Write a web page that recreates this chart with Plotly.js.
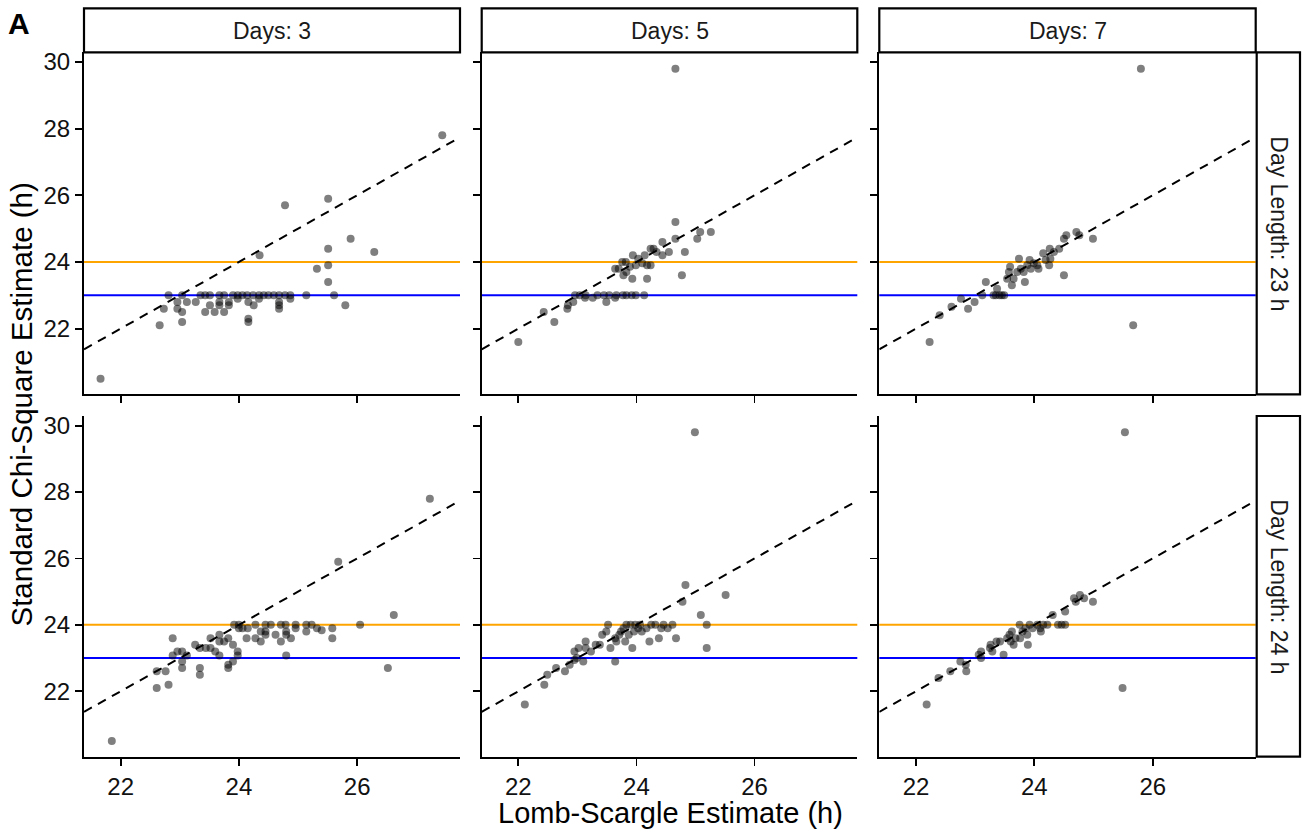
<!DOCTYPE html>
<html>
<head>
<meta charset="utf-8">
<script src="https://cdn.plot.ly/plotly-3.0.1.min.js"></script>
<style>html,body{margin:0;padding:0;background:#fff}#chart{width:1309px;height:833px}</style>
</head>
<body>
<div id="chart"></div>
<script>
// ---------------- DATA ----------------
const dayLabels = ["Days: 3", "Days: 5", "Days: 7"];
const dayLengthLabels = ["Day Length: 23 h", "Day Length: 24 h"];
const xTickVals = [22, 24, 26];
const yTickVals = [22, 24, 26, 28, 30];
const refHLines = [23, 24];
const refHLineColors = ["#0000FF", "#FFA500"];

// Day length 23 h
const ls_d3_dl23 = [21.66,27.44,24.78,25.51,25.89,26.29,25.51,25.32,25.51,25.51,25.61,25.80,24.35,25.14,22.66,22.73,22.81,22.96,22.96,23.04,23.04,23.04,23.12,23.27,23.35,23.43,23.51,23.43,23.51,23.59,23.67,23.75,23.67,23.67,23.75,23.83,23.83,23.90,23.98,23.98,24.06,24.14,24.16,24.16,24.16,24.24,24.25,24.34,24.34,24.42,24.50,24.59,24.68,24.68,24.68,24.68,24.78,24.87,24.87];
const chi_d3_dl23 = [20.5,27.8,25.7,25.9,24.7,24.3,24.4,23.8,23.9,23.4,23.0,22.7,24.2,23.0,22.1,22.6,23.0,22.8,22.6,23.0,22.5,22.2,22.8,22.8,23.0,23.0,23.0,22.5,22.7,22.5,23.0,23.0,22.8,22.7,22.5,22.8,22.7,23.0,23.0,22.9,23.0,23.0,22.8,22.3,22.2,23.0,22.7,23.0,22.9,23.0,23.0,23.0,23.0,22.8,22.7,22.6,23.0,23.0,22.9];

const ls_d5_dl23 = [24.66,22.00,22.43,22.61,22.83,22.84,22.93,22.96,23.04,23.13,23.14,23.26,23.34,23.45,23.49,23.54,23.64,23.66,23.77,23.83,23.92,23.99,24.13,23.64,23.70,23.78,23.83,23.93,23.76,23.82,23.89,23.94,23.99,24.03,24.10,24.14,24.18,24.18,24.24,24.24,24.29,24.34,24.44,24.44,24.55,24.66,24.66,24.77,24.82,25.03,25.08,25.26];
const chi_d5_dl23 = [29.8,21.6,22.5,22.2,22.6,22.7,22.8,23.0,23.0,22.93,23.0,22.93,23.0,23.0,22.8,23.0,22.93,23.0,23.0,23.0,23.0,23.0,23.0,23.8,23.8,23.6,23.7,23.5,24.0,24.0,23.86,24.2,23.9,24.1,23.96,24.2,23.5,23.9,23.9,24.4,24.4,24.3,24.6,24.2,24.3,24.7,25.2,23.6,24.3,24.7,24.9,24.9];

const ls_d7_dl23 = [25.80,25.67,22.23,22.40,22.60,22.76,22.88,22.99,23.12,23.18,23.31,23.37,23.41,23.49,23.54,23.57,23.59,23.62,23.65,23.71,23.74,23.77,23.82,23.84,23.88,23.92,23.94,23.99,24.05,24.07,24.15,24.19,24.25,24.27,24.26,24.33,24.42,24.50,24.50,24.54,24.71,24.76,24.99,23.35,23.45];
const chi_d7_dl23 = [29.8,22.1,21.6,22.4,22.66,22.9,22.6,22.8,23.0,23.4,23.0,23.2,23.0,23.0,23.5,23.7,23.86,23.3,23.5,23.7,24.1,23.8,23.7,23.4,23.9,24.06,23.8,23.96,23.9,23.8,24.26,24.06,23.9,24.1,24.4,24.3,24.4,23.6,24.7,24.8,24.9,24.8,24.7,23.0,23.0];

// Day length 24 h
const ls_d3_dl24 = [21.85,27.23,25.68,26.62,26.52,26.05,25.58,25.58,25.40,25.32,25.23,25.14,25.14,24.96,24.96,24.88,24.80,24.80,24.80,24.79,24.71,24.71,24.62,24.54,24.45,24.45,24.45,24.37,24.37,24.28,24.28,24.15,24.13,24.06,24.00,23.92,24.00,23.98,23.98,23.90,23.82,23.82,23.90,23.82,23.75,23.67,23.67,23.67,23.60,23.52,23.52,23.44,23.34,23.26,23.34,23.34,23.12,23.04,23.04,23.04,22.96,22.88,22.88,22.81,22.76,22.61,22.61];
const chi_d3_dl24 = [20.5,27.8,25.9,24.3,22.7,24.0,23.9,23.6,23.84,23.9,24.0,23.8,24.0,23.9,24.0,23.6,23.7,23.8,23.08,24.0,23.5,24.0,23.7,24.0,24.0,23.8,23.7,23.5,23.8,23.6,24.0,23.9,23.6,23.9,24.0,24.0,23.9,23.2,23.08,22.9,22.8,22.7,23.4,23.6,23.5,23.7,23.5,23.08,23.2,23.6,23.3,23.3,23.3,23.4,22.7,22.5,23.08,23.2,22.9,22.7,23.2,23.08,23.6,22.2,22.6,22.6,22.1];

const ls_d5_dl24 = [24.99,22.11,22.44,22.49,22.64,22.79,22.87,22.95,22.99,22.95,23.02,23.10,23.14,23.14,23.23,23.31,23.38,23.42,23.49,23.52,23.56,23.64,23.64,23.66,23.71,23.74,23.78,23.81,23.83,23.87,23.90,23.93,23.96,23.98,24.03,24.06,24.09,24.17,24.22,24.25,24.32,24.38,24.42,24.46,24.53,24.61,24.67,24.78,24.83,25.09,25.19,25.19,25.51];
const chi_d5_dl24 = [29.8,21.6,22.2,22.5,22.7,22.6,22.8,22.94,23.0,23.2,23.3,22.9,23.5,23.3,23.2,23.4,23.4,23.7,23.8,24.0,23.3,22.9,23.6,23.5,23.7,23.8,23.9,23.5,24.0,23.7,24.0,23.3,23.8,24.0,23.9,24.0,23.8,23.9,23.5,24.0,24.0,23.6,23.9,24.0,23.9,24.0,23.6,24.7,25.2,24.3,24.0,23.3,24.9];

const ls_d7_dl24 = [25.53,25.49,22.18,22.38,22.58,22.75,22.84,22.85,23.06,23.10,23.10,23.25,23.26,23.29,23.36,23.42,23.48,23.54,23.58,23.60,23.62,23.65,23.68,23.75,23.76,23.80,23.85,23.88,23.89,23.92,23.97,24.05,24.10,24.11,24.15,24.22,24.31,24.40,24.46,24.52,24.52,24.67,24.70,24.77,24.84,24.99];
const chi_d7_dl24 = [29.8,22.1,21.6,22.4,22.6,22.9,22.8,22.6,23.1,23.2,23.0,23.3,23.4,23.2,23.5,23.5,23.1,23.6,23.7,23.5,23.8,23.4,23.6,24.0,23.6,23.8,23.9,23.7,23.4,24.0,23.9,24.0,23.9,23.8,24.0,24.0,24.3,24.0,24.0,24.0,24.4,24.8,24.7,24.9,24.8,24.7];

// ---------------- LAYOUT ----------------
const W = 1309, H = 833;
const panels = [
  [ls_d3_dl23, chi_d3_dl23], [ls_d5_dl23, chi_d5_dl23], [ls_d7_dl23, chi_d7_dl23],
  [ls_d3_dl24, chi_d3_dl24], [ls_d5_dl24, chi_d5_dl24], [ls_d7_dl24, chi_d7_dl24]
];
const colPx = [[84, 460], [481.7, 857.3], [879.3, 1255.7]];
const rowPx = [[52.3, 394.3], [416, 756.7]];
const xRange = [21.38, 27.74];
const yRange = [20.03, 30.29];
const FONT = "Liberation Sans, Arial, sans-serif";

const px2x = p => p / W;
const px2y = p => 1 - p / H;

const traces = [];
const layout = {
  width: W, height: H,
  margin: {l: 0, r: 0, t: 0, b: 0},
  paper_bgcolor: "#fff", plot_bgcolor: "#fff",
  showlegend: false,
  font: {family: FONT, color: "#000"},
  shapes: [], annotations: []
};

for (let i = 0; i < 6; i++) {
  const r = Math.floor(i / 3), c = i % 3;
  const sfx = i === 0 ? "" : String(i + 1);
  const xa = "x" + sfx, ya = "y" + sfx;
  traces.push({
    type: "scatter", mode: "markers",
    x: panels[i][0], y: panels[i][1],
    xaxis: xa, yaxis: ya,
    marker: {color: "rgba(0,0,0,0.5)", size: 8, line: {width: 0}},
    hoverinfo: "x+y"
  });
  layout["xaxis" + sfx] = {
    domain: [px2x(colPx[c][0]), px2x(colPx[c][1])],
    anchor: ya, range: xRange, autorange: false,
    showgrid: false, zeroline: false,
    showline: true, linecolor: "#000", linewidth: 2,
    ticks: "outside", ticklen: 7, tickwidth: 1.8, tickcolor: "#000",
    tickvals: xTickVals, showticklabels: r === 1,
    tickfont: {family: FONT, size: 24, color: "#111"}
  };
  layout["yaxis" + sfx] = {
    domain: [px2y(rowPx[r][1]), px2y(rowPx[r][0])],
    anchor: xa, range: yRange, autorange: false,
    showgrid: false, zeroline: false,
    showline: true, linecolor: "#000", linewidth: 2,
    ticks: "outside", ticklen: 7, tickwidth: 1.8, tickcolor: "#000",
    tickvals: yTickVals, showticklabels: c === 0,
    tickfont: {family: FONT, size: 24, color: "#111"}
  };
  refHLines.forEach((v, k) => {
    layout.shapes.push({
      type: "line", layer: "below",
      xref: xa + " domain", yref: ya, x0: 0, x1: 1, y0: v, y1: v,
      line: {color: refHLineColors[k], width: 2}
    });
  });
  layout.shapes.push({
    type: "line", layer: "above", xref: xa, yref: ya,
    x0: xRange[0], y0: xRange[0], x1: xRange[1], y1: xRange[1],
    line: {color: "#000", width: 2, dash: "9px,7px"}
  });
}

for (let c = 0; c < 3; c++) {
  layout.shapes.push({
    type: "rect", xref: "paper", yref: "paper", layer: "above",
    x0: px2x(colPx[c][0]), x1: px2x(colPx[c][1]),
    y0: px2y(52.3), y1: px2y(8.3),
    fillcolor: "#fff", line: {color: "#000", width: 2.2}
  });
  layout.annotations.push({
    xref: "paper", yref: "paper", showarrow: false,
    x: px2x((colPx[c][0] + colPx[c][1]) / 2), y: px2y(31),
    xanchor: "center", yanchor: "middle",
    text: dayLabels[c], font: {family: FONT, size: 23, color: "#1a1a1a"}
  });
}
for (let r = 0; r < 2; r++) {
  layout.shapes.push({
    type: "rect", xref: "paper", yref: "paper", layer: "above",
    x0: px2x(1256.7), x1: px2x(1300),
    y0: px2y(rowPx[r][1]), y1: px2y(rowPx[r][0]),
    fillcolor: "#fff", line: {color: "#000", width: 2.2}
  });
  layout.annotations.push({
    xref: "paper", yref: "paper", showarrow: false,
    x: px2x(1279), y: px2y((rowPx[r][0] + rowPx[r][1]) / 2),
    xanchor: "center", yanchor: "middle", textangle: 90,
    text: dayLengthLabels[r], font: {family: FONT, size: 23, color: "#1a1a1a"}
  });
}
layout.annotations.push({
  xref: "paper", yref: "paper", showarrow: false,
  x: px2x(670), y: px2y(813), xanchor: "center", yanchor: "middle",
  text: "Lomb-Scargle Estimate (h)", font: {family: FONT, size: 29, color: "#000"}
});
layout.annotations.push({
  xref: "paper", yref: "paper", showarrow: false,
  x: px2x(21), y: px2y(404.5), xanchor: "center", yanchor: "middle", textangle: -90,
  text: "Standard Chi-Square Estimate (h)", font: {family: FONT, size: 29.5, color: "#000"}
});
layout.annotations.push({
  xref: "paper", yref: "paper", showarrow: false,
  x: px2x(6), y: px2y(24), xanchor: "left", yanchor: "middle",
  text: "<b>A</b>", font: {family: FONT, size: 30, color: "#000"}
});

Plotly.newPlot("chart", traces, layout, {displayModeBar: false, staticPlot: true});
</script>
</body>
</html>
